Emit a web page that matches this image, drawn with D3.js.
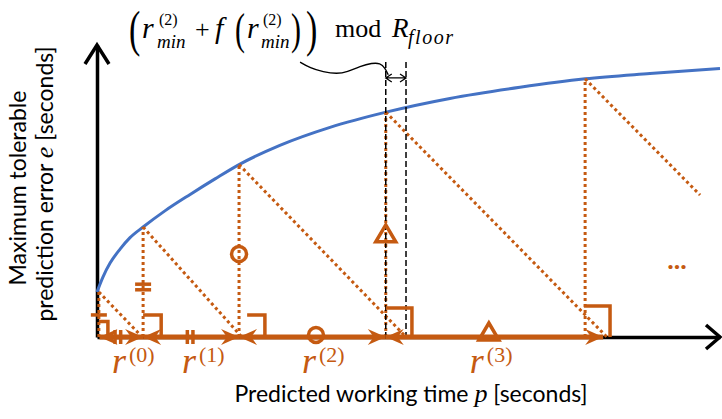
<!DOCTYPE html>
<html lang="en">
  <head>
    <meta charset="UTF-8" />
    <title>Sawtooth of maximum tolerable prediction error</title>
    <script src="https://d3js.org/d3.v7.min.js"></script>
    <style>
      body { margin: 0; padding: 0; background: #fff; }
      svg { display: block; background: #fff; }
      .axis path { stroke: #000; stroke-width: 3.5; }
      .label { font-family: Lato, "Open Sans", sans-serif; font-size: 23px; fill: #000; }
      .mathit { font-family: "Liberation Serif", serif; font-style: italic; }
      .math { font-family: "Liberation Serif", serif; fill: #000; }
      .rlab { font-family: "Liberation Serif", serif; fill: #C55A11; }
    </style>
  </head>
  <body>
    <script>
      const ORANGE = "#C55A11", BLUE = "#4472C4";

      // blue curve e = f(p) (p and e in seconds)
      const curveP = [0, 0.19, 0.42, 0.74, 1.06, 1.48, 2.18, 2.99, 3.79, 4.56, 5.87, 7.48, 9.28, 11.33, 13.58, 15.67, 17.75, 20];
      const curveE = [1.45, 1.93, 2.38, 2.83, 3.2, 3.54, 4.06, 4.59, 5.09, 5.55, 6.17, 6.75, 7.24, 7.68, 8.04, 8.31, 8.48, 8.64];

      // sawtooth: vertical dotted lines up to the curve, then diagonal back down
      const startP = [0.06, 1.48, 4.56, 9.27, 15.67];
      const startE = [1.45, 3.54, 5.55, 7.24, 8.31];
      const diagEndP = [1.45, 4.65, 9.92, 16.37, 19.36];
      const diagEndE = [0, 0, 0, 0, 4.57];

      // right-angle brackets on the axis
      const bracketX0 = [0.06, 1.48, 4.82, 9.27, 15.63];
      const bracketX1 = [0.35, 2.06, 5.39, 10.11, 16.47];
      const bracketH = [0.5, 0.71, 0.71, 0.93, 1.0];

      // r segments
      const rNames = ["0", "1", "2", "3"];
      const rStart = [0.08, 1.48, 4.56, 9.27];
      const rEnd = [1.48, 4.56, 9.27, 16.25];
      const rMarkP = [0.67, 2.99, 7.03, 12.58];
      const rLabelP = [0.48, 2.73, 6.58, 11.97];
      const markType = ["hash2", "hash2", "circle", "triangle"];
      // equal-length markers on the vertical lines
      const vMarkType = ["hash1", "hash2", "circle", "triangle"];
      const vMarkE = [0.71, 1.61, 2.67, 3.32];

      // mod R_floor annotation
      const modP = [9.27, 9.92];
      const modTopE = 8.85;
      const modArrowE = 8.34;
      const notePointP = [6.52, 6.84, 7.26, 7.71, 8.03, 8.45, 8.83, 9.09, 9.25, 9.35];
      const notePointE = [8.85, 8.66, 8.53, 8.47, 8.53, 8.72, 8.82, 8.82, 8.66, 8.44];

      const width = 722, height = 419;
      const svg = d3.select("body").append("svg")
        .attr("width", width).attr("height", height);

      const x = d3.scaleLinear().domain([0, 20]).range([97, 720]);
      const y = d3.scaleLinear().domain([0, 9.4]).range([337, 45]);

      // axes without ticks, plus open arrow tips
      svg.append("g").attr("class", "axis")
        .attr("transform", `translate(0,${y(0)})`)
        .call(d3.axisBottom(x).tickValues([]).tickSizeOuter(0));
      svg.append("g").attr("class", "axis")
        .attr("transform", `translate(${x(0)},0)`)
        .call(d3.axisLeft(y).tickValues([]).tickSizeOuter(0));
      svg.append("path")
        .attr("d", `M${x(20) - 14},${y(0) - 12}L${x(20)},${y(0)}L${x(20) - 14},${y(0) + 12}`)
        .attr("fill", "none").attr("stroke", "#000").attr("stroke-width", 3.5);
      svg.append("path")
        .attr("d", `M${x(0) - 12},${y(9.4) + 19}L${x(0)},${y(9.4)}L${x(0) + 12},${y(9.4) + 19}`)
        .attr("fill", "none").attr("stroke", "#000").attr("stroke-width", 3.5);

      // blue curve
      const curveData = curveP.map((p, i) => [p, curveE[i]]);
      svg.append("path")
        .datum(curveData)
        .attr("fill", "none").attr("stroke", BLUE).attr("stroke-width", 3)
        .attr("d", d3.line().x(d => x(d[0])).y(d => y(d[1])).curve(d3.curveMonotoneX));

      // dotted verticals and diagonals
      const dotted = svg.append("g")
        .attr("stroke", ORANGE).attr("stroke-width", 3).attr("stroke-dasharray", "3 3");
      startP.forEach((p, i) => {
        dotted.append("line")
          .attr("x1", x(p)).attr("x2", x(p))
          .attr("y1", y(0)).attr("y2", y(startE[i]));
        dotted.append("line")
          .attr("x1", x(p)).attr("y1", y(startE[i]))
          .attr("x2", x(diagEndP[i])).attr("y2", y(diagEndE[i]));
      });

      // black dashed guides for the mod annotation
      modP.forEach(p => {
        svg.append("line")
          .attr("x1", x(p)).attr("x2", x(p))
          .attr("y1", y(modTopE)).attr("y2", y(0))
          .attr("stroke", "#000").attr("stroke-width", 1.5).attr("stroke-dasharray", "6 3");
      });
      const ma = y(modArrowE), m0 = x(modP[0]), m1 = x(modP[1]);
      svg.append("path")
        .attr("d", `M${m0},${ma}H${m1}M${m0 + 6},${ma - 4}L${m0},${ma}L${m0 + 6},${ma + 4}` +
                   `M${m1 - 6},${ma - 4}L${m1},${ma}L${m1 - 6},${ma + 4}`)
        .attr("fill", "none").attr("stroke", "#000").attr("stroke-width", 1.3);
      svg.append("path")
        .datum(notePointP.map((p, i) => [p, notePointE[i]]))
        .attr("fill", "none").attr("stroke", "#000").attr("stroke-width", 1.4)
        .attr("d", d3.line().x(d => x(d[0])).y(d => y(d[1])).curve(d3.curveBasis));

      // right-angle brackets
      bracketX0.forEach((b, i) => {
        svg.append("path")
          .attr("d", `M${x(b)},${y(bracketH[i])}H${x(bracketX1[i])}V${y(0)}`)
          .attr("fill", "none").attr("stroke", ORANGE).attr("stroke-width", 3.5);
      });

      // r segments: thick double-headed arrows
      function arrowHead(tx, ty, dir) {
        svg.append("path")
          .attr("d", `M${tx},${ty}L${tx - dir * 18},${ty - 8}L${tx - dir * 12},${ty}L${tx - dir * 18},${ty + 8}Z`)
          .attr("fill", ORANGE);
      }
      rStart.forEach((s, i) => {
        svg.append("line")
          .attr("x1", x(s)).attr("x2", x(rEnd[i]))
          .attr("y1", y(0)).attr("y2", y(0))
          .attr("stroke", ORANGE).attr("stroke-width", 5);
      });
      rStart.forEach((s, i) => {
        arrowHead(x(s), y(0), -1);
        arrowHead(x(rEnd[i]), y(0), 1);
      });

      // equal-length markers
      function marker(type, cx, cy, vertical) {
        const g = svg.append("g").attr("fill", "none").attr("stroke", ORANGE).attr("stroke-width", 3.5);
        if (type === "hash1" || type === "hash2") {
          const offs = type === "hash1" ? [0] : [-2.8, 2.8];
          offs.forEach(o => {
            if (vertical) {
              g.append("line").attr("x1", cx - 8).attr("x2", cx + 8).attr("y1", cy + o).attr("y2", cy + o);
            } else {
              g.append("line").attr("x1", cx + o).attr("x2", cx + o).attr("y1", cy - 7).attr("y2", cy + 7);
            }
          });
        } else if (type === "circle") {
          g.append("circle").attr("cx", cx).attr("cy", vertical ? cy : cy - 2).attr("r", 7.5);
        } else {
          const cyy = vertical ? cy : cy - 5;
          g.append("path")
            .attr("d", `M${cx},${cyy - 9}L${cx + 10},${cyy + 8}L${cx - 10},${cyy + 8}Z`)
            .attr("stroke-linejoin", "miter");
        }
      }
      rMarkP.forEach((p, i) => marker(markType[i], x(p), y(0), false));
      vMarkE.forEach((e, i) => marker(vMarkType[i], x(startP[i]), y(e), true));

      // r labels, one text each with the superscript as a tspan
      rLabelP.forEach((p, i) => {
        const t = svg.append("text").attr("class", "rlab")
          .attr("x", x(p)).attr("y", 373);
        t.append("tspan").attr("font-size", 36).attr("font-style", "italic").text("r");
        t.append("tspan").attr("x", x(p) + 17).attr("y", 362)
          .attr("font-size", 22).text(`(${rNames[i]})`);
      });

      // ellipsis
      svg.append("text").attr("class", "rlab")
        .attr("x", 677).attr("y", 269).attr("text-anchor", "middle")
        .attr("font-size", 26).attr("font-weight", "bold").text("...");

      // axis labels
      const xl = svg.append("text").attr("class", "label")
        .attr("x", 411).attr("y", 402).attr("text-anchor", "middle");
      xl.append("tspan").text("Predicted working time ");
      xl.append("tspan").attr("class", "mathit").attr("font-size", 26).text("p");
      xl.append("tspan").text(" [seconds]");

      svg.append("text").attr("class", "label")
        .attr("transform", "translate(26,188) rotate(-90)")
        .attr("text-anchor", "middle").text("Maximum tolerable");
      const yl = svg.append("text").attr("class", "label")
        .attr("transform", "translate(53,184) rotate(-90)")
        .attr("text-anchor", "middle");
      yl.append("tspan").text("prediction error ");
      yl.append("tspan").attr("class", "mathit").attr("font-size", 26).text("e");
      yl.append("tspan").text(" [seconds]");

      // formula: (r_min^(2) + f(r_min^(2))) mod R_floor
      // slim stretched parentheses as their own texts
      function paren(str, px, py, size) {
        svg.append("text").attr("class", "math")
          .attr("transform", `translate(${px},${py}) scale(0.68,1)`)
          .attr("font-size", size).text(str);
      }
      paren("(", 129, 46, 50);
      paren("(", 235, 44, 44);
      paren(")", 291, 44, 44);
      paren(")", 306, 46, 50);

      const f = svg.append("text").attr("class", "math");
      function mt(str, px, py, size, italic) {
        f.append("tspan").attr("x", px).attr("y", py).attr("font-size", size)
          .attr("font-style", italic ? "italic" : "normal").text(str);
      }
      mt("r", 142, 38, 30, true);
      mt("(2)", 159, 25, 16, false);
      mt("min", 157, 48, 19, true);
      mt("+", 195, 38, 26, false);
      mt("f", 215, 38, 30, true);
      mt("r", 247, 38, 30, true);
      mt("(2)", 263, 25, 16, false);
      mt("min", 261, 48, 19, true);
      mt("mod", 335, 37, 26, false);
      mt("R", 392, 37, 27, true);
      f.append("tspan").attr("x", 408).attr("y", 44).attr("font-size", 20)
        .attr("font-style", "italic").attr("textLength", 45).text("floor");
    </script>
  </body>
</html>
